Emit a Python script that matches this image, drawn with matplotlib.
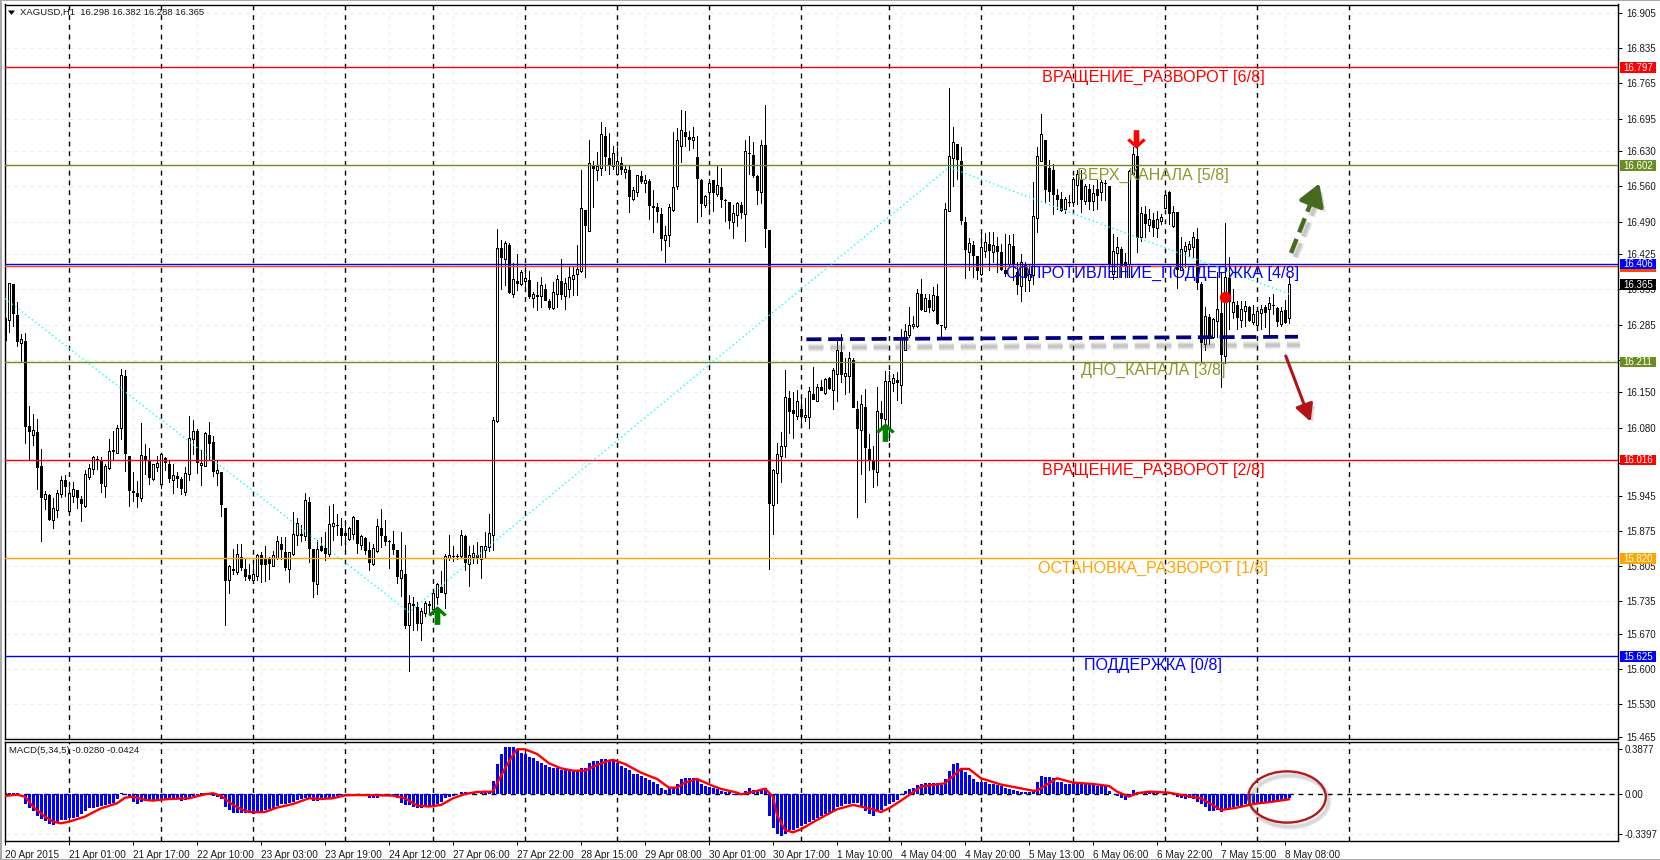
import numpy as np
import matplotlib
matplotlib.use('Agg')
import matplotlib.pyplot as plt
from matplotlib.path import Path
from matplotlib.patches import Ellipse, Rectangle
from matplotlib.transforms import blended_transform_factory
import matplotlib.patheffects as pe

plt.rcParams['font.family'] = ['Liberation Sans', 'DejaVu Sans']

opens = [
16.255,16.295,16.365,16.305,16.249,16.253,16.084,16.065,16.072,16.004,
15.938,15.947,15.897,15.917,15.948,15.976,15.915,15.944,15.955,15.939,
15.925,15.982,15.998,16.017,16.013,15.964,16.000,16.036,16.029,16.080,
16.182,16.024,15.954,15.950,15.940,16.023,16.013,15.978,16.002,15.968,
16.020,16.008,15.976,15.983,15.977,15.952,15.988,16.057,16.074,16.005,
16.004,16.066,16.052,15.990,15.992,15.921,15.776,15.799,15.793,15.823,
15.799,15.786,15.776,15.785,15.827,15.819,15.819,15.804,15.821,15.849,
15.832,15.799,15.828,15.866,15.869,15.864,15.933,15.838,15.768,15.844,
15.841,15.828,15.884,15.886,15.881,15.870,15.859,15.869,15.897,15.847,
15.861,15.837,15.809,15.835,15.880,15.864,15.855,15.849,15.836,15.781,
15.789,15.687,15.728,15.723,15.691,15.712,15.728,15.720,15.744,15.763,
15.751,15.821,15.824,15.824,15.824,15.864,15.809,15.823,15.827,15.819,
15.837,15.842,15.867,16.093,16.438,16.416,16.444,16.346,16.371,16.366,
16.372,16.374,16.338,16.344,16.341,16.356,16.333,16.318,16.346,16.372,
16.342,16.356,16.376,16.385,16.392,16.513,16.472,16.603,16.593,16.597,
16.661,16.617,16.601,16.585,16.607,16.588,16.592,16.534,16.549,16.580,
16.567,16.570,16.521,16.519,16.505,16.453,16.464,16.513,16.560,16.641,
16.668,16.659,16.652,16.619,16.573,16.523,16.548,16.573,16.544,16.559,
16.533,16.530,16.489,16.503,16.524,16.505,16.627,16.623,16.580,16.548,
16.643,16.474,15.927,15.990,16.023,16.043,16.139,16.116,16.104,16.118,
16.101,16.101,16.147,16.134,16.160,16.149,16.178,16.154,16.186,16.230,
16.183,16.183,16.215,16.118,16.076,16.122,16.038,16.015,15.992,16.110,
16.097,16.081,16.169,16.175,16.165,16.234,16.265,16.282,16.282,16.345,
16.313,16.334,16.315,16.341,16.285,16.280,16.511,16.617,16.645,16.611,
16.490,16.429,16.444,16.421,16.385,16.432,16.446,16.429,16.442,16.429,
16.394,16.406,16.442,16.389,16.361,16.406,16.374,16.383,16.497,16.611,
16.653,16.596,16.592,16.543,16.534,16.515,16.530,16.529,16.562,16.572,
16.531,16.555,16.531,16.555,16.548,16.567,16.561,16.386,16.428,16.436,
16.409,16.406,16.585,16.621,16.459,16.505,16.484,16.493,16.477,16.491,
16.517,16.548,16.482,16.510,16.394,16.432,16.436,16.439,16.456,16.366,
16.247,16.301,16.260,16.292,16.308,16.222,16.377,16.310,16.325,16.295,
16.312,16.320,16.290,16.285,16.309,16.320,16.316,16.325,16.318,16.287,16.315,16.298]

highs = [
16.305,16.367,16.365,16.330,16.267,16.269,16.124,16.108,16.098,16.038,
15.954,15.948,15.940,15.956,15.983,15.985,15.962,15.972,15.955,15.945,
15.996,16.008,16.023,16.024,16.021,16.008,16.058,16.074,16.086,16.197,
16.195,16.024,15.992,15.974,16.089,16.047,16.039,16.008,16.023,16.029,
16.021,16.014,16.008,15.991,15.982,16.002,16.104,16.096,16.078,16.035,
16.072,16.092,16.064,16.015,15.992,15.921,15.806,15.839,15.849,15.848,
15.819,15.809,15.813,15.829,15.832,15.844,15.823,15.834,15.864,15.862,
15.862,15.832,15.912,15.901,15.887,15.949,15.943,15.838,15.856,15.862,
15.872,15.925,15.929,15.909,15.901,15.897,15.882,15.905,15.897,15.866,
15.862,15.852,15.849,15.899,15.919,15.897,15.856,15.874,15.836,15.872,
15.847,15.748,15.744,15.733,15.722,15.736,15.736,15.753,15.771,15.795,
15.829,15.867,15.844,15.828,15.877,15.867,15.844,15.846,15.852,15.844,
15.872,15.909,16.102,16.475,16.454,16.452,16.447,16.407,16.426,16.394,
16.406,16.391,16.350,16.369,16.379,16.366,16.336,16.369,16.383,16.416,
16.378,16.401,16.399,16.444,16.593,16.513,16.653,16.611,16.629,16.689,
16.678,16.666,16.641,16.638,16.618,16.601,16.603,16.558,16.583,16.590,
16.582,16.575,16.553,16.527,16.517,16.482,16.525,16.669,16.676,16.713,
16.711,16.671,16.678,16.661,16.575,16.542,16.575,16.573,16.600,16.596,
16.534,16.530,16.523,16.530,16.529,16.653,16.661,16.648,16.583,16.653,
16.723,16.474,15.998,16.049,16.071,16.194,16.153,16.151,16.154,16.137,
16.139,16.161,16.200,16.167,16.175,16.179,16.180,16.199,16.257,16.267,
16.219,16.230,16.219,16.134,16.144,16.157,16.068,16.043,16.161,16.134,
16.192,16.192,16.187,16.190,16.277,16.287,16.320,16.303,16.356,16.376,
16.346,16.346,16.360,16.365,16.285,16.527,16.756,16.679,16.645,16.639,
16.499,16.458,16.451,16.422,16.468,16.467,16.469,16.469,16.459,16.446,
16.466,16.464,16.466,16.409,16.425,16.409,16.403,16.568,16.638,16.704,
16.653,16.613,16.605,16.555,16.548,16.539,16.542,16.578,16.592,16.592,
16.565,16.565,16.562,16.572,16.573,16.573,16.561,16.466,16.459,16.440,
16.427,16.592,16.638,16.638,16.520,16.522,16.515,16.507,16.512,16.505,
16.550,16.550,16.522,16.510,16.459,16.449,16.452,16.469,16.478,16.370,
16.320,16.306,16.299,16.389,16.389,16.488,16.420,16.356,16.333,16.333,
16.333,16.323,16.325,16.320,16.325,16.325,16.340,16.346,16.320,16.320,16.334,16.382]

lows = [
16.255,16.270,16.283,16.242,16.211,16.049,16.015,16.045,15.957,15.854,
15.919,15.897,15.880,15.903,15.943,15.944,15.915,15.932,15.920,15.895,
15.923,15.978,15.988,15.998,15.952,15.943,15.998,16.018,16.029,16.057,
15.993,15.924,15.934,15.922,15.934,15.988,15.968,15.975,15.994,15.960,
15.995,15.972,15.950,15.962,15.948,15.947,15.975,16.027,15.990,15.965,
16.003,16.015,15.984,15.965,15.904,15.687,15.752,15.788,15.789,15.796,
15.776,15.776,15.771,15.776,15.773,15.775,15.779,15.804,15.819,15.819,
15.797,15.773,15.826,15.846,15.854,15.856,15.813,15.743,15.750,15.834,
15.816,15.824,15.856,15.866,15.846,15.839,15.857,15.859,15.830,15.839,
15.829,15.796,15.806,15.833,15.842,15.846,15.801,15.829,15.771,15.746,
15.682,15.596,15.677,15.677,15.657,15.706,15.710,15.710,15.730,15.753,
15.721,15.816,15.815,15.819,15.823,15.797,15.765,15.811,15.811,15.781,
15.823,15.834,15.836,16.091,16.355,16.363,16.348,16.340,16.354,16.363,
16.353,16.338,16.320,16.314,16.320,16.334,16.316,16.316,16.320,16.336,
16.316,16.340,16.343,16.343,16.389,16.379,16.472,16.520,16.572,16.582,
16.593,16.584,16.595,16.584,16.585,16.577,16.509,16.533,16.540,16.567,
16.548,16.495,16.469,16.489,16.434,16.409,16.442,16.512,16.555,16.608,
16.641,16.633,16.637,16.489,16.502,16.520,16.505,16.512,16.540,16.520,
16.492,16.477,16.457,16.482,16.497,16.451,16.585,16.578,16.525,16.528,
16.439,15.799,15.869,15.930,15.972,16.021,16.069,16.059,16.098,16.081,
16.094,16.079,16.138,16.133,16.155,16.147,16.157,16.118,16.134,16.171,
16.147,16.151,16.121,15.902,15.988,15.932,15.995,15.962,15.965,16.078,
16.055,16.055,16.153,16.135,16.129,16.234,16.261,16.279,16.280,16.315,
16.312,16.310,16.313,16.287,16.259,16.277,16.511,16.560,16.575,16.485,
16.378,16.393,16.379,16.375,16.384,16.419,16.393,16.409,16.389,16.393,
16.381,16.403,16.373,16.346,16.333,16.352,16.352,16.366,16.469,16.611,
16.527,16.532,16.505,16.515,16.511,16.507,16.522,16.522,16.525,16.509,
16.525,16.515,16.513,16.515,16.533,16.533,16.379,16.376,16.379,16.379,
16.379,16.379,16.585,16.429,16.452,16.460,16.472,16.462,16.459,16.485,
16.517,16.485,16.480,16.358,16.393,16.399,16.422,16.419,16.356,16.211,
16.235,16.247,16.259,16.260,16.161,16.208,16.277,16.299,16.277,16.281,
16.283,16.292,16.287,16.283,16.277,16.280,16.267,16.306,16.283,16.282,16.288,16.288]

closes = [
16.299,16.367,16.308,16.253,16.257,16.083,16.073,16.076,16.002,15.942,
15.948,15.898,15.921,15.950,15.976,15.964,15.950,15.958,15.942,15.930,
15.988,16.000,16.021,16.018,15.970,16.003,16.034,16.033,16.080,16.185,
16.029,15.956,15.952,15.944,16.026,16.015,15.982,16.007,16.010,16.027,
16.011,15.979,15.986,15.980,15.960,15.990,16.060,16.074,16.011,16.010,
16.070,16.049,15.993,15.996,15.928,15.777,15.804,15.796,15.829,15.803,
15.784,15.781,15.789,15.827,15.808,15.808,15.811,15.827,15.854,15.838,
15.803,15.832,15.869,15.890,15.866,15.937,15.841,15.775,15.839,15.836,
15.831,15.889,15.890,15.886,15.866,15.866,15.880,15.902,15.850,15.864,
15.837,15.812,15.841,15.884,15.867,15.854,15.854,15.838,15.785,15.796,
15.687,15.732,15.729,15.691,15.715,15.732,15.729,15.751,15.768,15.753,
15.825,15.827,15.824,15.825,15.867,15.813,15.827,15.831,15.821,15.844,
15.845,15.871,16.096,16.438,16.419,16.448,16.350,16.376,16.368,16.390,
16.378,16.342,16.346,16.342,16.364,16.335,16.321,16.350,16.376,16.346,
16.368,16.379,16.384,16.396,16.517,16.483,16.607,16.597,16.600,16.664,
16.620,16.604,16.627,16.610,16.594,16.595,16.541,16.553,16.583,16.570,
16.573,16.523,16.519,16.511,16.457,16.464,16.519,16.559,16.653,16.672,
16.660,16.655,16.659,16.576,16.527,16.541,16.567,16.548,16.563,16.535,
16.533,16.493,16.507,16.528,16.509,16.631,16.627,16.582,16.552,16.643,
16.477,15.930,15.995,16.028,16.043,16.142,16.114,16.109,16.133,16.104,
16.106,16.152,16.138,16.161,16.155,16.176,16.159,16.194,16.234,16.186,
16.188,16.219,16.121,16.079,16.127,16.041,16.015,15.997,16.114,16.100,
16.173,16.173,16.179,16.170,16.259,16.273,16.285,16.287,16.348,16.316,
16.338,16.320,16.344,16.288,16.284,16.515,16.621,16.649,16.614,16.493,
16.435,16.448,16.423,16.393,16.440,16.449,16.434,16.444,16.432,16.396,
16.387,16.446,16.407,16.366,16.409,16.379,16.386,16.501,16.621,16.665,
16.554,16.550,16.545,16.535,16.514,16.535,16.530,16.574,16.585,16.535,
16.560,16.532,16.547,16.542,16.568,16.567,16.406,16.432,16.440,16.403,
16.404,16.590,16.625,16.460,16.507,16.487,16.495,16.480,16.495,16.500,
16.543,16.507,16.510,16.396,16.436,16.442,16.446,16.459,16.370,16.250,
16.302,16.261,16.297,16.316,16.226,16.379,16.333,16.330,16.300,16.316,
16.323,16.295,16.306,16.313,16.316,16.311,16.328,16.325,16.292,16.313,16.290,16.365]

macd_hist = [
.009,.011,.009,.009,.003,-.086,-.114,-.143,-.185,-.214,
-.228,-.251,-.262,-.242,-.222,-.217,-.205,-.200,-.194,-.171,
-.143,-.120,-.114,-.108,-.103,-.091,-.086,-.071,-.043,.009,
-.009,-.034,-.063,-.080,-.063,-.057,-.054,-.051,-.046,-.043,
-.040,-.037,-.034,-.040,-.057,-.051,-.023,-.017,-.009,.009,
.009,.009,-.011,-.023,-.043,-.108,-.137,-.157,-.157,-.157,
-.157,-.162,-.165,-.157,-.143,-.134,-.128,-.120,-.100,-.086,
-.080,-.071,-.063,-.051,-.040,-.034,-.040,-.057,-.057,-.051,
-.043,-.034,-.023,-.011,-.009,-.006,-.006,-.006,-.006,-.009,
-.011,-.029,-.034,-.029,-.014,-.006,-.006,-.003,-.034,-.071,
-.094,-.094,-.108,-.114,-.114,-.108,-.103,-.103,-.086,-.063,
-.034,-.023,-.014,.006,.017,.017,.014,.009,.006,.009,
.014,.029,.114,.257,.342,.405,.405,.405,.376,.356,
.348,.322,.314,.285,.271,.251,.234,.228,.228,.205,
.205,.200,.200,.205,.222,.228,.268,.285,.285,.299,
.299,.294,.285,.271,.242,.222,.205,.177,.171,.160,
.143,.120,.108,.091,.057,.040,.051,.063,.091,.131,
.143,.143,.137,.120,.086,.068,.063,.051,.046,.029,
.023,.017,-.009,-.009,-.009,.029,.051,.040,.040,.034,
.051,-.185,-.285,-.336,-.353,-.336,-.308,-.308,-.285,-.271,
-.257,-.239,-.222,-.200,-.185,-.165,-.157,-.143,-.108,-.103,
-.086,-.080,-.074,-.074,-.108,-.143,-.165,-.185,-.143,-.131,
-.100,-.086,-.063,-.051,-.006,.029,.043,.057,.080,.091,
.100,.100,.100,.100,.080,.128,.200,.257,.268,.228,
.194,.165,.128,.103,.103,.103,.091,.086,.080,.071,
.051,.043,.034,.029,.023,.017,.017,.034,.103,.157,
.148,.148,.143,.108,.103,.091,.091,.100,.100,.100,
.091,.086,.080,.074,.074,.068,.029,.003,-.017,-.029,
-.051,-.023,.040,.017,.011,.017,.017,.009,.009,.006,
.014,.009,.006,-.023,-.034,-.040,-.034,-.040,-.063,-.086,
-.108,-.143,-.143,-.137,-.148,-.128,-.120,-.108,-.103,-.097,
-.086,-.080,-.080,-.080,-.071,-.071,-.068,-.063,-.063,-.057,-.051,-.028]

signal_bars = [0,3,5,7,10,12,14,16,20,24,28,30,32,35,37,41,46,50,52,54,57,60,62,65,68,72,76,79,82,85,
88,97,100,103,106,109,112,115,118,122,123,125,127,128,130,133,136,139,142,145,148,151,152,155,159,
163,166,168,170,173,177,179,183,184,188,190,192,193,195,197,199,203,208,212,216,219,221,224,229,235,
239,241,244,249,257,258,263,267,272,276,278,281,283,286,291,295,299,304,308,312,317,321]
signal_vals = [-.014,-.003,-.020,-.105,-.191,-.234,-.248,-.234,-.191,-.120,-.077,-.029,-.020,-.048,-.054,
-.040,-.034,0,.009,-.014,-.091,-.143,-.154,-.151,-.114,-.083,-.034,-.040,-.034,-.009,-.006,-.011,-.034,
-.097,-.105,-.091,-.034,.003,.020,.023,.094,.222,.336,.385,.385,.345,.265,.222,.202,.202,.251,.288,.294,
.259,.185,.131,.057,.057,.100,.131,.071,.046,.014,0,.029,.048,-.020,-.177,-.305,-.325,-.299,-.219,-.128,
-.091,-.120,-.151,-.120,-.054,.066,.094,.217,.217,.137,.083,.031,.031,.137,.100,.088,.071,.023,-.020,.009,
.023,.014,-.011,-.034,-.134,-.114,-.083,-.063,-.0424]

zigzag_bars = [0, 101, 236, 321]
zigzag_vals = [16.337, 15.713, 16.598, 16.346]

date_labels = ['20 Apr 2015','21 Apr 01:00','21 Apr 17:00','22 Apr 10:00','23 Apr 03:00','23 Apr 19:00',
 '24 Apr 12:00','27 Apr 06:00','27 Apr 22:00','28 Apr 15:00','29 Apr 08:00','30 Apr 01:00','30 Apr 17:00',
 '1 May 10:00','4 May 04:00','4 May 20:00','5 May 13:00','6 May 06:00','6 May 22:00','7 May 15:00','8 May 08:00']
day_separators = [16,39,62,85,107,130,153,176,199,221,244,267,290,313,336]
price_ticks = [16.905,16.835,16.765,16.695,16.630,16.560,16.490,16.425,16.355,16.285,16.215,16.150,16.080,
 16.010,15.945,15.875,15.805,15.735,15.670,15.600,15.530,15.465]
hidden_ticks = [16.215, 16.010]

OLIVE = '#6b8e23'; OLIVE_T = '#8a9a2a'; ORANGE = '#ffa500'
level_prices = [16.797, 16.602, 16.406, 16.401, 16.211, 16.016, 15.820, 15.625]
level_colors = ['#ff0000', OLIVE, '#0000ff', '#ff4500', OLIVE, '#ff0000', ORANGE, '#0000ff']
label_texts = ['ВРАЩЕНИЕ_РАЗВОРОТ [6/8]','ВЕРХ_КАНАЛА [5/8]','СОПРОТИВЛЕНИЕ_ПОДДЕРЖКА [4/8]','ДНО_КАНАЛА [3/8]',
 'ВРАЩЕНИЕ_РАЗВОРОТ [2/8]','ОСТАНОВКА_РАЗВОРОТ [1/8]','ПОДДЕРЖКА [0/8]']
label_prices = [16.7777,16.5827,16.3877,16.193,15.9958,15.8008,15.6058]
label_colors = ['#ff0000',OLIVE_T,'#0000ff',OLIVE_T,'#ff0000',ORANGE,'#0000ff']

W, H = 1660, 860
fig = plt.figure(figsize=(W/100, H/100), dpi=100, facecolor='white')
def axbox(l, t, r, b):
    return [l/W, (H-b)/H, (r-l)/W, (b-t)/H]
ax = fig.add_axes(axbox(4.5, 4.5, 1618, 739))
mx = fig.add_axes(axbox(4.5, 741.5, 1618, 840.5), sharex=ax)
PX = 0.72

n = len(opens)
assert n == len(highs) == len(lows) == len(closes) == len(macd_hist)
bars = np.arange(n)
o, h, l, c = map(np.array, (opens, highs, lows, closes))

ax.set_xlim(-0.125, 403.25)
ax.set_ylim(15.4605, 16.922)
mx.set_ylim(-0.395, 0.4514)

TXT = '#1a1a1a'
NUM = 7.0
tick_bars = np.arange(len(date_labels)) * 16
for a in (ax, mx):
    a.set_axisbelow(True)
    a.grid(True, color='#ececec', lw=PX, ls=(0, (4, 4)))
    for s in a.spines.values():
        s.set_linewidth(1.0); s.set_color('black')
    a.vlines(day_separators, 0, 1, transform=a.get_xaxis_transform(), colors='black',
             lw=1.0, linestyles=(0, (3.5, 3.5)), zorder=1)
    a.yaxis.tick_right()

ax.set_yticks(price_ticks)
ax.set_yticklabels(['' if v in hidden_ticks else '%.3f' % v for v in price_ticks])
ax.tick_params(axis='y', length=3, width=PX, pad=3, labelsize=NUM, labelcolor=TXT)
ax.tick_params(axis='x', which='both', bottom=False, labelbottom=False)
mx.set_xticks(tick_bars)
mx.set_xticklabels(date_labels, ha='left')
mx.tick_params(axis='x', length=3, width=PX, pad=3.5, labelsize=7.2, labelcolor=TXT)
mx.set_yticks([0.3877, 0.0, -0.3397])
mx.set_yticklabels(['0.3877', '0.00', '-0.3397'])
mx.tick_params(axis='y', length=3, width=PX, pad=1.5, labelsize=NUM, labelcolor=TXT)

# candles
ax.vlines(bars, l, h, colors='black', lw=PX, zorder=2, antialiased=False)
up = c >= o
ax.bar(bars[up], (c-o)[up], bottom=o[up], width=0.45, facecolor='white', edgecolor='black', lw=PX, zorder=2.2, antialiased=False)
ax.bar(bars[~up], (o-c)[~up], bottom=c[~up], width=0.45, facecolor='black', edgecolor='black', lw=PX, zorder=2.2, antialiased=False)

# levels
for p, col in zip(level_prices, level_colors):
    ax.axhline(p, color=col, lw=1.0, zorder=3)
ax.plot(zigzag_bars, zigzag_vals, color='#00ffff', lw=0.9, ls=(0, (1.2, 2.2)), zorder=3)
for t, p, col in zip(label_texts, label_prices, label_colors):
    ax.text(287, p, t, color=col, fontsize=11.6, ha='center', va='center', zorder=4)

# hand drawn trend line and arrows
def shadow(dx, dy):
    return [pe.Stroke(offset=(dx, dy), linewidth=6, foreground='#777777', alpha=0.10),
            pe.Stroke(offset=(dx, dy), linewidth=4.2, foreground='#777777', alpha=0.16),
            pe.Stroke(offset=(dx, dy), linewidth=2.4, foreground='#777777', alpha=0.22),
            pe.Normal()]
ax.plot([200.35, 323.25], [16.2558, 16.2609], color='#000080', lw=2.7, ls=(0, (4, 1.8)), zorder=5,
        dash_capstyle='butt', path_effects=shadow(1.5, -6))
ax.plot([321.5, 327.4], [16.4275, 16.546], color='#466b1e', lw=3.2, ls=(0, (3.4, 1.6)), zorder=5,
        dash_capstyle='butt', path_effects=shadow(3, -3))
ax.annotate('', xy=(328.6, 16.566), xytext=(326.6, 16.525),
            arrowprops=dict(arrowstyle='-|>,head_length=1.0,head_width=0.6', color='#466b1e', lw=3.0,
                            shrinkA=0, shrinkB=0, mutation_scale=13,
                            path_effects=[pe.SimplePatchShadow(offset=(3, -3), shadow_rgbFace='#888888', alpha=0.3), pe.Normal()]), zorder=5)
ax.annotate('', xy=(326.4, 16.0919), xytext=(320.2, 16.2226),
            arrowprops=dict(arrowstyle='-|>,head_length=0.95,head_width=0.5', color='#b01414', lw=2.2,
                            shrinkA=0, shrinkB=0, mutation_scale=11,
                            path_effects=[pe.SimplePatchShadow(offset=(2.5, -2.5), shadow_rgbFace='#888888', alpha=0.3), pe.Normal()]), zorder=5)

up_arrow = Path([(0,1),(1,0.1),(0.72,-0.12),(0.3,0.28),(0.3,-1),(-0.3,-1),(-0.3,0.28),(-0.72,-0.12),(-1,0.1),(0,1)], closed=True)
down_arrow = Path([(0,-1),(1,-0.1),(0.72,0.12),(0.3,-0.28),(0.3,1),(-0.3,1),(-0.3,-0.28),(-0.72,0.12),(-1,-0.1),(0,-1)], closed=True)
ax.plot([107.9, 220], [15.707, 16.072], ls='', marker=up_arrow, ms=13.5, color='#008000', mew=0, zorder=5)
ax.plot([282.7], [16.654], ls='', marker=down_arrow, ms=13.5, color='#ff0000', mew=0, zorder=5)
ax.plot([305], [16.340], ls='', marker='o', ms=8.2, color='#ff0000', mew=0, zorder=5)

# price tags
trans = blended_transform_factory(ax.transAxes, ax.transData)
tag_prices = [16.401, 16.406, 16.365, 16.797, 16.602, 16.211, 16.016, 15.820, 15.625]
tag_colors = ['#ff4500', '#0000ff', '#000000', '#ff0000', OLIVE, OLIVE, '#ff0000', ORANGE, '#0000ff']
tag_labels = ['', '16.406', '16.365', '16.797', '16.602', '16.211', '16.016', '15.820', '15.625']
axw = 1613.5
for p, col, lab in zip(tag_prices, tag_colors, tag_labels):
    ax.add_patch(Rectangle((1 + 2/axw, p - 0.0105), 36/axw, 0.021, transform=trans, facecolor=col,
                           edgecolor='none', clip_on=False, zorder=6))
    if lab:
        ax.text(1 + 20/axw, p - 0.001, lab, transform=trans, color='white', fontsize=NUM,
                ha='center', va='center', clip_on=False, zorder=7)

# MACD
mx.axhline(0, color='black', lw=1.0, ls=(0, (3.5, 3.5)), zorder=1)
mx.bar(bars, macd_hist, width=0.75, color='#0000ff', lw=0, zorder=2, antialiased=False)
mx.plot(signal_bars, signal_vals, color='#ff0000', lw=1.7, zorder=3)
mx.add_patch(Ellipse((320.5, -0.023), 19.4, 0.438, facecolor='none', edgecolor='#b01c1c', lw=1.7, zorder=4,
                     clip_on=False, path_effects=[pe.Stroke(offset=(2, -3), linewidth=4, foreground='#888888', alpha=0.15),
                                                  pe.Stroke(offset=(2, -3), linewidth=2.4, foreground='#888888', alpha=0.2), pe.Normal()]))

# captions
fig.text(20/W, 1-12.5/H, 'XAGUSD,H1  16.298 16.382 16.288 16.365', fontsize=6.8, color=TXT, ha='left', va='center')
fig.patches.append(plt.Polygon([[8/W, 1-10.5/H], [15/W, 1-10.5/H], [11.5/W, 1-15/H]], closed=True, facecolor='black',
                               edgecolor='none', transform=fig.transFigure))
fig.text(9/W, 1-750.7/H, 'MACD(5,34,5) -0.0280 -0.0424', fontsize=6.8, color=TXT, ha='left', va='center')

# window chrome
for rect in ([0, 0, 2/W, 1], [0, 1-1.2/H, 1, 1.2/H], [0, 0, 1, 1.5/H]):
    fig.patches.append(Rectangle(rect[:2], rect[2], rect[3], facecolor='#a8a8a8', edgecolor='none', transform=fig.transFigure))

fig.savefig('out.png', dpi=100)
